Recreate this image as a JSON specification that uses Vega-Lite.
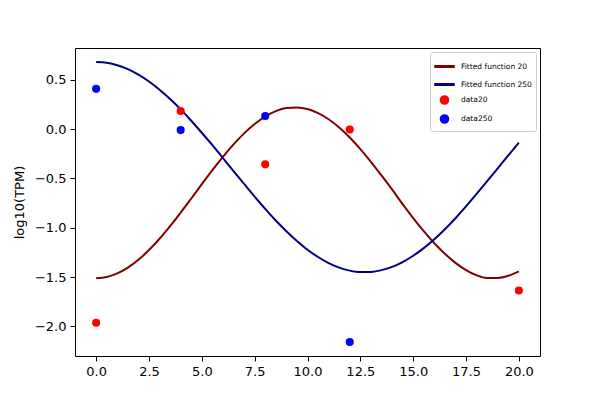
{
  "$schema": "https://vega.github.io/schema/vega-lite/v6.json",
  "width": 465,
  "height": 308,
  "autosize": "none",
  "padding": {"left": 75, "top": 48, "right": 60, "bottom": 44},
  "background": "white",
  "datasets": {
    "curves": [
      {"x": 0, "y": -1.51, "series": "Fitted function 20"},
      {"x": 0.5, "y": -1.498, "series": "Fitted function 20"},
      {"x": 1, "y": -1.462, "series": "Fitted function 20"},
      {"x": 1.5, "y": -1.404, "series": "Fitted function 20"},
      {"x": 2, "y": -1.324, "series": "Fitted function 20"},
      {"x": 2.5, "y": -1.225, "series": "Fitted function 20"},
      {"x": 3, "y": -1.111, "series": "Fitted function 20"},
      {"x": 3.5, "y": -0.983, "series": "Fitted function 20"},
      {"x": 4, "y": -0.846, "series": "Fitted function 20"},
      {"x": 4.5, "y": -0.703, "series": "Fitted function 20"},
      {"x": 5, "y": -0.558, "series": "Fitted function 20"},
      {"x": 5.5, "y": -0.416, "series": "Fitted function 20"},
      {"x": 6, "y": -0.281, "series": "Fitted function 20"},
      {"x": 6.5, "y": -0.155, "series": "Fitted function 20"},
      {"x": 7, "y": -0.043, "series": "Fitted function 20"},
      {"x": 7.5, "y": 0.052, "series": "Fitted function 20"},
      {"x": 8, "y": 0.127, "series": "Fitted function 20"},
      {"x": 8.5, "y": 0.182, "series": "Fitted function 20"},
      {"x": 9, "y": 0.213, "series": "Fitted function 20"},
      {"x": 9.5, "y": 0.22, "series": "Fitted function 20"},
      {"x": 10, "y": 0.203, "series": "Fitted function 20"},
      {"x": 10.5, "y": 0.162, "series": "Fitted function 20"},
      {"x": 11, "y": 0.1, "series": "Fitted function 20"},
      {"x": 11.5, "y": 0.016, "series": "Fitted function 20"},
      {"x": 12, "y": -0.085, "series": "Fitted function 20"},
      {"x": 12.5, "y": -0.202, "series": "Fitted function 20"},
      {"x": 13, "y": -0.331, "series": "Fitted function 20"},
      {"x": 13.5, "y": -0.469, "series": "Fitted function 20"},
      {"x": 14, "y": -0.611, "series": "Fitted function 20"},
      {"x": 14.5, "y": -0.76, "series": "Fitted function 20"},
      {"x": 15, "y": -0.901, "series": "Fitted function 20"},
      {"x": 15.5, "y": -1.034, "series": "Fitted function 20"},
      {"x": 16, "y": -1.156, "series": "Fitted function 20"},
      {"x": 16.5, "y": -1.263, "series": "Fitted function 20"},
      {"x": 17, "y": -1.355, "series": "Fitted function 20"},
      {"x": 17.5, "y": -1.428, "series": "Fitted function 20"},
      {"x": 18, "y": -1.481, "series": "Fitted function 20"},
      {"x": 18.5, "y": -1.508, "series": "Fitted function 20"},
      {"x": 19, "y": -1.508, "series": "Fitted function 20"},
      {"x": 19.5, "y": -1.486, "series": "Fitted function 20"},
      {"x": 20, "y": -1.441, "series": "Fitted function 20"},
      {"x": 0, "y": 0.68, "series": "Fitted function 250"},
      {"x": 0.5, "y": 0.672, "series": "Fitted function 250"},
      {"x": 1, "y": 0.648, "series": "Fitted function 250"},
      {"x": 1.5, "y": 0.608, "series": "Fitted function 250"},
      {"x": 2, "y": 0.552, "series": "Fitted function 250"},
      {"x": 2.5, "y": 0.483, "series": "Fitted function 250"},
      {"x": 3, "y": 0.4, "series": "Fitted function 250"},
      {"x": 3.5, "y": 0.305, "series": "Fitted function 250"},
      {"x": 4, "y": 0.2, "series": "Fitted function 250"},
      {"x": 4.5, "y": 0.085, "series": "Fitted function 250"},
      {"x": 5, "y": -0.037, "series": "Fitted function 250"},
      {"x": 5.5, "y": -0.163, "series": "Fitted function 250"},
      {"x": 6, "y": -0.293, "series": "Fitted function 250"},
      {"x": 6.5, "y": -0.425, "series": "Fitted function 250"},
      {"x": 7, "y": -0.555, "series": "Fitted function 250"},
      {"x": 7.5, "y": -0.684, "series": "Fitted function 250"},
      {"x": 8, "y": -0.808, "series": "Fitted function 250"},
      {"x": 8.5, "y": -0.926, "series": "Fitted function 250"},
      {"x": 9, "y": -1.034, "series": "Fitted function 250"},
      {"x": 9.5, "y": -1.133, "series": "Fitted function 250"},
      {"x": 10, "y": -1.222, "series": "Fitted function 250"},
      {"x": 10.5, "y": -1.296, "series": "Fitted function 250"},
      {"x": 11, "y": -1.357, "series": "Fitted function 250"},
      {"x": 11.5, "y": -1.403, "series": "Fitted function 250"},
      {"x": 12, "y": -1.434, "series": "Fitted function 250"},
      {"x": 12.5, "y": -1.449, "series": "Fitted function 250"},
      {"x": 13, "y": -1.447, "series": "Fitted function 250"},
      {"x": 13.5, "y": -1.429, "series": "Fitted function 250"},
      {"x": 14, "y": -1.396, "series": "Fitted function 250"},
      {"x": 14.5, "y": -1.347, "series": "Fitted function 250"},
      {"x": 15, "y": -1.283, "series": "Fitted function 250"},
      {"x": 15.5, "y": -1.206, "series": "Fitted function 250"},
      {"x": 16, "y": -1.116, "series": "Fitted function 250"},
      {"x": 16.5, "y": -1.014, "series": "Fitted function 250"},
      {"x": 17, "y": -0.903, "series": "Fitted function 250"},
      {"x": 17.5, "y": -0.783, "series": "Fitted function 250"},
      {"x": 18, "y": -0.657, "series": "Fitted function 250"},
      {"x": 18.5, "y": -0.528, "series": "Fitted function 250"},
      {"x": 19, "y": -0.398, "series": "Fitted function 250"},
      {"x": 19.5, "y": -0.267, "series": "Fitted function 250"},
      {"x": 20, "y": -0.137, "series": "Fitted function 250"}
    ],
    "points": [
      {"x": 0, "y": -1.962, "series": "data20"},
      {"x": 4, "y": 0.184, "series": "data20"},
      {"x": 8, "y": -0.357, "series": "data20"},
      {"x": 12, "y": -0.003, "series": "data20"},
      {"x": 20, "y": -1.636, "series": "data20"},
      {"x": 0, "y": 0.408, "series": "data250"},
      {"x": 4, "y": -0.01, "series": "data250"},
      {"x": 8, "y": 0.133, "series": "data250"},
      {"x": 12, "y": -2.157, "series": "data250"},
      {"x": 20, "y": 0.122, "series": "data250"}
    ]
  },
  "encoding": {
    "x": {
      "field": "x",
      "type": "quantitative",
      "scale": {"domain": [-1, 21], "nice": false, "zero": false},
      "axis": {"values": [0, 2.5, 5, 7.5, 10, 12.5, 15, 17.5, 20], "format": ".1f", "title": null}
    },
    "y": {
      "field": "y",
      "type": "quantitative",
      "scale": {"domain": [-2.299, 0.822], "nice": false, "zero": false},
      "axis": {"values": [-2, -1.5, -1, -0.5, 0, 0.5], "format": ".1f", "title": "log10(TPM)"}
    },
    "color": {
      "field": "series",
      "type": "nominal",
      "scale": {
        "domain": ["Fitted function 20", "Fitted function 250", "data20", "data250"],
        "range": ["#800000", "#000080", "#ff0000", "#0000ff"]
      },
      "legend": {
        "title": null,
        "orient": "top-right",
        "offset": 4,
        "padding": 4,
        "fillColor": "white",
        "strokeColor": "#cccccc",
        "cornerRadius": 2,
        "labelFontSize": 7.5,
        "labelFont": "DejaVu Sans",
        "labelColor": "black",
        "rowPadding": 3,
        "labelOffset": 6
      }
    }
  },
  "layer": [
    {
      "data": {"name": "curves"},
      "mark": {"type": "line", "strokeWidth": 2, "interpolate": "monotone"}
    },
    {
      "data": {"name": "points"},
      "mark": {"type": "point", "filled": true, "opacity": 1},
      "encoding": {
        "shape": {
          "field": "series",
          "type": "nominal",
          "scale": {
            "domain": ["Fitted function 20", "Fitted function 250", "data20", "data250"],
            "range": ["M-1,-0.09H1V0.09H-1Z", "M-1,-0.09H1V0.09H-1Z", "circle", "circle"]
          },
          "legend": {"title": null}
        },
        "size": {
          "field": "series",
          "type": "nominal",
          "scale": {
            "type": "ordinal",
            "domain": ["Fitted function 20", "Fitted function 250", "data20", "data250"],
            "range": [360, 360, 65, 65]
          },
          "legend": {"title": null}
        }
      }
    }
  ],
  "config": {
    "view": {"stroke": "black", "strokeWidth": 1},
    "font": "DejaVu Sans",
    "axis": {
      "grid": false,
      "domain": false,
      "tickColor": "black",
      "tickSize": 5,
      "tickWidth": 1,
      "labelColor": "black",
      "labelFont": "DejaVu Sans",
      "labelFontSize": 13,
      "labelPadding": 4,
      "titleFont": "DejaVu Sans",
      "titleFontSize": 13,
      "titleFontWeight": "normal",
      "titleColor": "black",
      "titlePadding": 8
    }
  }
}
